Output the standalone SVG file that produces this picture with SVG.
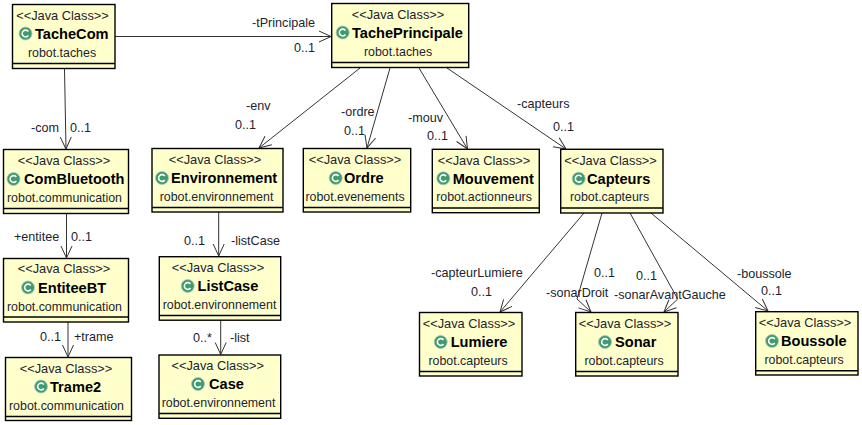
<svg xmlns="http://www.w3.org/2000/svg" width="862" height="425" viewBox="0 0 862 425">
<style>
text{font-family:"Liberation Sans",Arial,sans-serif;font-size:12.6px;fill:#1c2430}
.b{fill:#ffffcc;stroke:#000;stroke-width:1.4}
.s{stroke:#000;stroke-width:1.4;fill:none}
.m{text-anchor:middle}
.t{font-size:12.8px}
.k{font-size:12.4px}
.n{font-size:14.6px;font-weight:bold;fill:#000}
.i{fill:#3f9a6e;stroke:#a4c9b4;stroke-width:.8}
.c{fill:none;stroke:#fff;stroke-width:1.6}
.e{stroke:#333;stroke-width:1;fill:none;marker-end:url(#a)}
</style>
<defs>
<marker id="a" markerUnits="userSpaceOnUse" markerWidth="14" markerHeight="14" refX="12" refY="6" orient="auto" overflow="visible"><path d="M0 0.5L12 6L0 11.5" fill="none" stroke="#333" stroke-width="1"/></marker>
<symbol id="ic" overflow="visible"><circle class="i" cx="0" cy="0" r="6.500"/><path class="c" d="M2.800-2A3.400 3.400 0 1 0 2.800 2"/></symbol>
</defs>
<rect width="862" height="425" fill="#fff"/>
<g id="connectors">
<path class="e" d="M115 36.500H331"/>
<path class="e" d="M64.500 69L66 149"/>
<path class="e" d="M66.500 214V258"/>
<path class="e" d="M68 322V357"/>
<path class="e" d="M360 68L259 148"/>
<path class="e" d="M390 68L367 148"/>
<path class="e" d="M419 68L467.500 149"/>
<path class="e" d="M447 68L566 149"/>
<path class="e" d="M218.700 212L218.700 256"/>
<path class="e" d="M220.700 320V354.500"/>
<path class="e" d="M584 213L500 312"/>
<path class="e" d="M602 213L577 299L591 312"/>
<path class="e" d="M630 213L677.700 299L664 312"/>
<path class="e" d="M651 213L768 311"/>
</g>
<g id="edge-labels">
<text x="252" y="27">-tPrincipale</text><text x="294" y="52">0..1</text>
<text x="31" y="132">-com</text><text x="70" y="132">0..1</text>
<text x="14" y="240.500">+entitee</text><text x="71" y="240.500">0..1</text>
<text x="40" y="341">0..1</text><text x="74" y="341">+trame</text>
<text x="246" y="110">-env</text><text x="235" y="129">0..1</text>
<text x="341" y="115.500">-ordre</text><text x="344" y="135">0..1</text>
<text x="408" y="121.500">-mouv</text><text x="427" y="139.500">0..1</text>
<text x="517" y="108">-capteurs</text><text x="553" y="130.500">0..1</text>
<text x="184" y="245">0..1</text><text x="231" y="245">-listCase</text>
<text x="193" y="342">0..*</text><text x="230" y="342">-list</text>
<text x="431" y="277">-capteurLumiere</text><text x="471" y="296">0..1</text>
<text x="546" y="297">-sonarDroit</text><text x="594" y="277">0..1</text>
<text x="636" y="280">0..1</text><text x="614" y="299">-sonarAvantGauche</text>
<text x="737" y="278">-boussole</text><text x="761" y="295">0..1</text>
</g>
<g id="TacheCom"><rect class="b" x="12.500" y="4.500" width="102.500" height="64"/><path class="s" d="M12.500 63.500H115"/><text class="m t" x="62.500" y="20">&lt;&lt;Java Class&gt;&gt;</text><use href="#ic" x="25.500" y="33.500"/><text x="35" y="39" class="n">TacheCom</text><text class="m k" x="62" y="57">robot.taches</text></g>
<g id="TachePrincipale"><rect class="b" x="331.700" y="3.500" width="137" height="64"/><path class="s" d="M331.700 62.500H468.700"/><text class="m t" x="398" y="19">&lt;&lt;Java Class&gt;&gt;</text><use href="#ic" x="342.700" y="32.500"/><text x="352" y="38" class="n">TachePrincipale</text><text class="m k" x="398" y="56">robot.taches</text></g>
<g id="ComBluetooth"><rect class="b" x="3.500" y="149.500" width="125" height="64"/><path class="s" d="M3.500 208.500H128.500"/><text class="m t" x="64" y="164.500">&lt;&lt;Java Class&gt;&gt;</text><use href="#ic" x="13.500" y="179"/><text x="24" y="184" class="n">ComBluetooth</text><text class="m k" x="64.500" y="201.500">robot.communication</text></g>
<g id="EntiteeBT"><rect class="b" x="3.500" y="258.500" width="125" height="63.500"/><path class="s" d="M3.500 317H128.500"/><text class="m t" x="64" y="273">&lt;&lt;Java Class&gt;&gt;</text><use href="#ic" x="28" y="287.500"/><text x="38" y="293" class="n">EntiteeBT</text><text class="m k" x="64.500" y="310.500">robot.communication</text></g>
<g id="Trame2"><rect class="b" x="5.500" y="357.500" width="126" height="63"/><path class="s" d="M5.500 416.500H131.500"/><text class="m t" x="66" y="373">&lt;&lt;Java Class&gt;&gt;</text><use href="#ic" x="41" y="386.500"/><text x="50" y="392" class="n">Trame2</text><text class="m k" x="66.500" y="410">robot.communication</text></g>
<g id="Environnement"><rect class="b" x="152" y="148.500" width="131" height="63.500"/><path class="s" d="M152 207.500H283"/><text class="m t" x="215" y="164">&lt;&lt;Java Class&gt;&gt;</text><use href="#ic" x="162" y="178"/><text x="171" y="183" class="n">Environnement</text><text class="m k" x="216.500" y="201">robot.environnement</text></g>
<g id="ListCase"><rect class="b" x="159.300" y="256.700" width="121.400" height="63.500"/><path class="s" d="M159.300 315.500H280.700"/><text class="m t" x="218" y="272">&lt;&lt;Java Class&gt;&gt;</text><use href="#ic" x="187.700" y="286"/><text x="197.500" y="291" class="n">ListCase</text><text class="m k" x="219.500" y="308.500">robot.environnement</text></g>
<g id="Case"><rect class="b" x="159" y="355" width="121.700" height="63.300"/><path class="s" d="M159 413.500H280.700"/><text class="m t" x="217.700" y="369.500">&lt;&lt;Java Class&gt;&gt;</text><use href="#ic" x="198" y="384"/><text x="209" y="389" class="n">Case</text><text class="m k" x="218.500" y="407">robot.environnement</text></g>
<g id="Ordre"><rect class="b" x="303.300" y="148.500" width="107.400" height="63.500"/><path class="s" d="M303.300 207.500H410.700"/><text class="m t" x="355" y="164">&lt;&lt;Java Class&gt;&gt;</text><use href="#ic" x="335.700" y="178"/><text x="344" y="183" class="n">Ordre</text><text class="m k" x="355" y="201">robot.evenements</text></g>
<g id="Mouvement"><rect class="b" x="432.300" y="149.300" width="107" height="63.400"/><path class="s" d="M432.300 208H539.300"/><text class="m t" x="484" y="164.500">&lt;&lt;Java Class&gt;&gt;</text><use href="#ic" x="443.300" y="178.300"/><text x="452.700" y="184" class="n">Mouvement</text><text class="m k" x="484" y="201">robot.actionneurs</text></g>
<g id="Capteurs"><rect class="b" x="560.700" y="149.300" width="102.300" height="63.700"/><path class="s" d="M560.700 208H663"/><text class="m t" x="610.500" y="164.500">&lt;&lt;Java Class&gt;&gt;</text><use href="#ic" x="578.700" y="178.700"/><text x="587" y="184" class="n">Capteurs</text><text class="m k" x="609.500" y="201">robot.capteurs</text></g>
<g id="Lumiere"><rect class="b" x="419.500" y="312.500" width="102.500" height="63.500"/><path class="s" d="M419.500 371.500H522"/><text class="m t" x="469" y="328">&lt;&lt;Java Class&gt;&gt;</text><use href="#ic" x="440.700" y="342"/><text x="450.700" y="347" class="n">Lumiere</text><text class="m k" x="468" y="365">robot.capteurs</text></g>
<g id="Sonar"><rect class="b" x="575.700" y="312.500" width="102.300" height="63.500"/><path class="s" d="M575.700 371.500H678"/><text class="m t" x="625" y="328">&lt;&lt;Java Class&gt;&gt;</text><use href="#ic" x="605" y="342"/><text x="615" y="347" class="n">Sonar</text><text class="m k" x="624" y="365">robot.capteurs</text></g>
<g id="Boussole"><rect class="b" x="755.700" y="311.700" width="102.300" height="63.300"/><path class="s" d="M755.700 370.700H858"/><text class="m t" x="805" y="327">&lt;&lt;Java Class&gt;&gt;</text><use href="#ic" x="772" y="341"/><text x="781" y="346" class="n">Boussole</text><text class="m k" x="804" y="364">robot.capteurs</text></g>
</svg>
